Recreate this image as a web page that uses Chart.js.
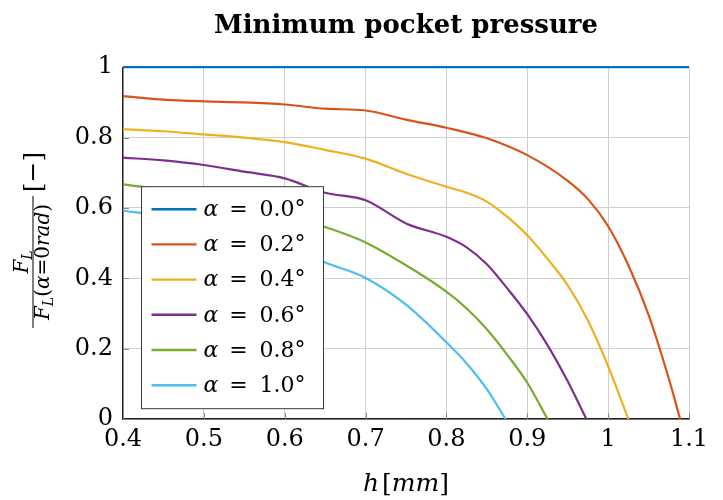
<!DOCTYPE html>
<html>
<head>
<meta charset="utf-8">
<script src="https://cdn.jsdelivr.net/npm/chart.js@4.4.1/dist/chart.umd.min.js"></script>
<style>
  html, body { margin: 0; padding: 0; background: #fff; }
  #wrap { width: 723px; height: 500px; }
</style>
</head>
<body>
<div id="wrap"><canvas id="pocketChart"></canvas></div>
<script>
const plotFont = '"DejaVu Serif", "Liberation Serif", serif';

// tilt angles and their line colours
const seriesLabels = ['α = 0.0°', 'α = 0.2°', 'α = 0.4°', 'α = 0.6°', 'α = 0.8°', 'α = 1.0°'];
const seriesColors = ['#0072BD', '#D95319', '#EDB120', '#7E2F8E', '#77AC30', '#4DBEEE'];

// film height h [mm] and F_L / F_L(α=0) for each tilt angle
const h00 = [0.4, 1.1];
const f00 = [1, 1];
const h02 = [0.4, 0.45, 0.5, 0.55, 0.6, 0.65, 0.7, 0.75, 0.8, 0.85, 0.9, 0.95, 0.975, 1.0, 1.025, 1.05, 1.075, 1.089];
const f02 = [0.918, 0.908, 0.903, 0.900, 0.894, 0.882, 0.877, 0.851, 0.828, 0.798, 0.750, 0.677, 0.625, 0.548, 0.437, 0.296, 0.115, 0];
const h04 = [0.4, 0.45, 0.5, 0.55, 0.6, 0.65, 0.7, 0.75, 0.8, 0.825, 0.85, 0.875, 0.9, 0.925, 0.95, 0.975, 1.0, 1.025];
const f04 = [0.824, 0.818, 0.809, 0.800, 0.787, 0.765, 0.740, 0.697, 0.660, 0.643, 0.618, 0.575, 0.522, 0.455, 0.380, 0.280, 0.150, 0];
const h06 = [0.4, 0.45, 0.5, 0.55, 0.6, 0.65, 0.7, 0.75, 0.8, 0.825, 0.85, 0.875, 0.9, 0.925, 0.95, 0.973];
const f06 = [0.743, 0.735, 0.722, 0.703, 0.684, 0.643, 0.622, 0.556, 0.518, 0.488, 0.440, 0.372, 0.298, 0.210, 0.107, 0];
const h08 = [0.4, 0.45, 0.5, 0.55, 0.6, 0.65, 0.7, 0.75, 0.8, 0.825, 0.85, 0.875, 0.9, 0.925];
const f08 = [0.667, 0.652, 0.634, 0.612, 0.583, 0.546, 0.502, 0.437, 0.362, 0.314, 0.255, 0.183, 0.103, 0];
const h10 = [0.4, 0.45, 0.5, 0.55, 0.6, 0.65, 0.7, 0.75, 0.8, 0.825, 0.85, 0.873];
const f10 = [0.592, 0.577, 0.557, 0.532, 0.497, 0.445, 0.401, 0.325, 0.218, 0.158, 0.085, 0];

const hSeries = [h00, h02, h04, h06, h08, h10];
const fSeries = [f00, f02, f04, f06, f08, f10];

// pieces of mixed italic/upright text, drawn one after the other
function runsWidth(ctx, runs) {
  return runs.reduce((w, r) => {
    ctx.font = r.font;
    return w + ctx.measureText(r.text).width + (r.gap || 0);
  }, 0);
}

function drawRuns(ctx, runs, cx, baseline) {
  let x = cx - runsWidth(ctx, runs) / 2;
  ctx.textAlign = 'left';
  ctx.textBaseline = 'alphabetic';
  runs.forEach(r => {
    ctx.font = r.font;
    ctx.fillText(r.text, x, baseline + (r.dy || 0));
    x += ctx.measureText(r.text).width + (r.gap || 0);
  });
}

// short inward tick marks along the bottom and left axes
const innerTicks = {
  id: 'innerTicks',
  beforeDatasetsDraw(chart) {
    const { ctx, chartArea, scales } = chart;
    ctx.save();
    ctx.strokeStyle = '#8a8a8a';
    ctx.lineWidth = 1;
    ctx.beginPath();
    scales.x.ticks.forEach(t => {
      const x = Math.round(scales.x.getPixelForValue(t.value)) + 0.5;
      ctx.moveTo(x, chartArea.bottom);
      ctx.lineTo(x, chartArea.bottom - 6);
    });
    scales.y.ticks.forEach(t => {
      const y = Math.round(scales.y.getPixelForValue(t.value)) + 0.5;
      ctx.moveTo(chartArea.left, y);
      ctx.lineTo(chartArea.left + 6, y);
    });
    ctx.stroke();
    ctx.restore();
  }
};

// legend box sitting inside the plot area, lower left
const insetLegend = {
  id: 'insetLegend',
  afterDatasetsDraw(chart) {
    const { ctx, chartArea } = chart;
    const left = chartArea.left + 18.5;
    const top = chartArea.top + 119.5;
    ctx.save();
    ctx.fillStyle = '#fff';
    ctx.fillRect(left, top, 182, 222);
    ctx.strokeStyle = '#3a3a3a';
    ctx.lineWidth = 1;
    ctx.strokeRect(left, top, 182, 222);

    chart.data.datasets.forEach((ds, i) => {
      const y = top + 22.5 + i * 35.2;
      ctx.strokeStyle = ds.borderColor;
      ctx.lineWidth = 2.4;
      ctx.beginPath();
      ctx.moveTo(left + 10, y);
      ctx.lineTo(left + 55, y);
      ctx.stroke();

      const [sym, val] = ds.label.split(' = ');
      ctx.fillStyle = '#000';
      ctx.textBaseline = 'middle';
      ctx.textAlign = 'left';
      ctx.font = 'italic 22px ' + plotFont;
      ctx.fillText(sym, left + 62, y + 1);
      ctx.font = '22px ' + plotFont;
      ctx.textAlign = 'center';
      ctx.fillText('=', left + 97, y + 1);
      ctx.textAlign = 'left';
      ctx.fillText(val, left + 118, y + 1);
    });
    ctx.restore();
  }
};

// h [mm] under the x axis, and the force ratio fraction beside the y axis
const axisTitles = {
  id: 'axisTitles',
  afterDraw(chart) {
    const { ctx, chartArea } = chart;
    const it = s => `italic ${s}px ${plotFont}`;
    const up = s => `${s}px ${plotFont}`;
    ctx.save();
    ctx.fillStyle = '#000';

    drawRuns(ctx, [
      { text: 'h', font: it(25), gap: 3 },
      { text: '[', font: up(25) },
      { text: 'mm', font: it(25) },
      { text: ']', font: up(25) }
    ], (chartArea.left + chartArea.right) / 2, 491);

    ctx.translate(33, 262);
    ctx.rotate(-Math.PI / 2);
    ctx.strokeStyle = '#000';
    ctx.lineWidth = 1;
    ctx.beginPath();
    ctx.moveTo(-66, 0);
    ctx.lineTo(66, 0);
    ctx.stroke();

    drawRuns(ctx, [
      { text: 'F', font: it(20) },
      { text: 'L', font: it(14), dy: 4 }
    ], 0, -5);
    drawRuns(ctx, [
      { text: 'F', font: it(20) },
      { text: 'L', font: it(14), dy: 4 },
      { text: '(', font: up(20) },
      { text: 'α', font: it(20) },
      { text: '=', font: up(20) },
      { text: '0', font: up(20) },
      { text: 'rad', font: it(20) },
      { text: ')', font: up(20) }
    ], 0, 16);

    ctx.font = up(25);
    ctx.textAlign = 'center';
    ctx.textBaseline = 'alphabetic';
    ctx.fillText('[−]', 90, 8);
    ctx.restore();
  }
};

const tickText = v => String(Math.round(v * 10) / 10);

new Chart(document.getElementById('pocketChart'), {
  type: 'line',
  data: {
    datasets: seriesLabels.map((label, i) => ({
      label: label,
      data: hSeries[i].map((h, j) => ({ x: h, y: fSeries[i][j] })),
      borderColor: seriesColors[i],
      backgroundColor: seriesColors[i],
      borderWidth: 2.2,
      pointRadius: 0,
      cubicInterpolationMode: 'monotone',
      fill: false,
      clip: false
    }))
  },
  options: {
    responsive: true,
    maintainAspectRatio: false,
    animation: false,
    layout: {
      padding: { left: 0, right: 34, top: 0, bottom: 0 }
    },
    scales: {
      x: {
        type: 'linear',
        min: 0.4,
        max: 1.1,
        afterFit: scale => { scale.height = 81; },
        ticks: {
          stepSize: 0.1,
          padding: 6,
          color: '#000',
          font: { family: plotFont, size: 24 },
          callback: tickText
        },
        grid: { color: '#cfcfcf', lineWidth: 1, drawTicks: false },
        border: { color: '#222', width: 1.4 }
      },
      y: {
        min: 0,
        max: 1,
        afterFit: scale => { scale.width = 123; },
        ticks: {
          stepSize: 0.2,
          padding: 10,
          color: '#000',
          font: { family: plotFont, size: 24 },
          callback: tickText
        },
        grid: { color: '#cfcfcf', lineWidth: 1, drawTicks: false },
        border: { color: '#222', width: 1.4 }
      }
    },
    plugins: {
      legend: { display: false },
      tooltip: { enabled: false },
      title: {
        display: true,
        fullSize: false,
        text: 'Minimum pocket pressure',
        color: '#000',
        font: { family: plotFont, size: 26, weight: 'bold', lineHeight: 1.2 },
        padding: { top: 11, bottom: 25 }
      }
    }
  },
  plugins: [innerTicks, insetLegend, axisTitles]
});
</script>
</body>
</html>
